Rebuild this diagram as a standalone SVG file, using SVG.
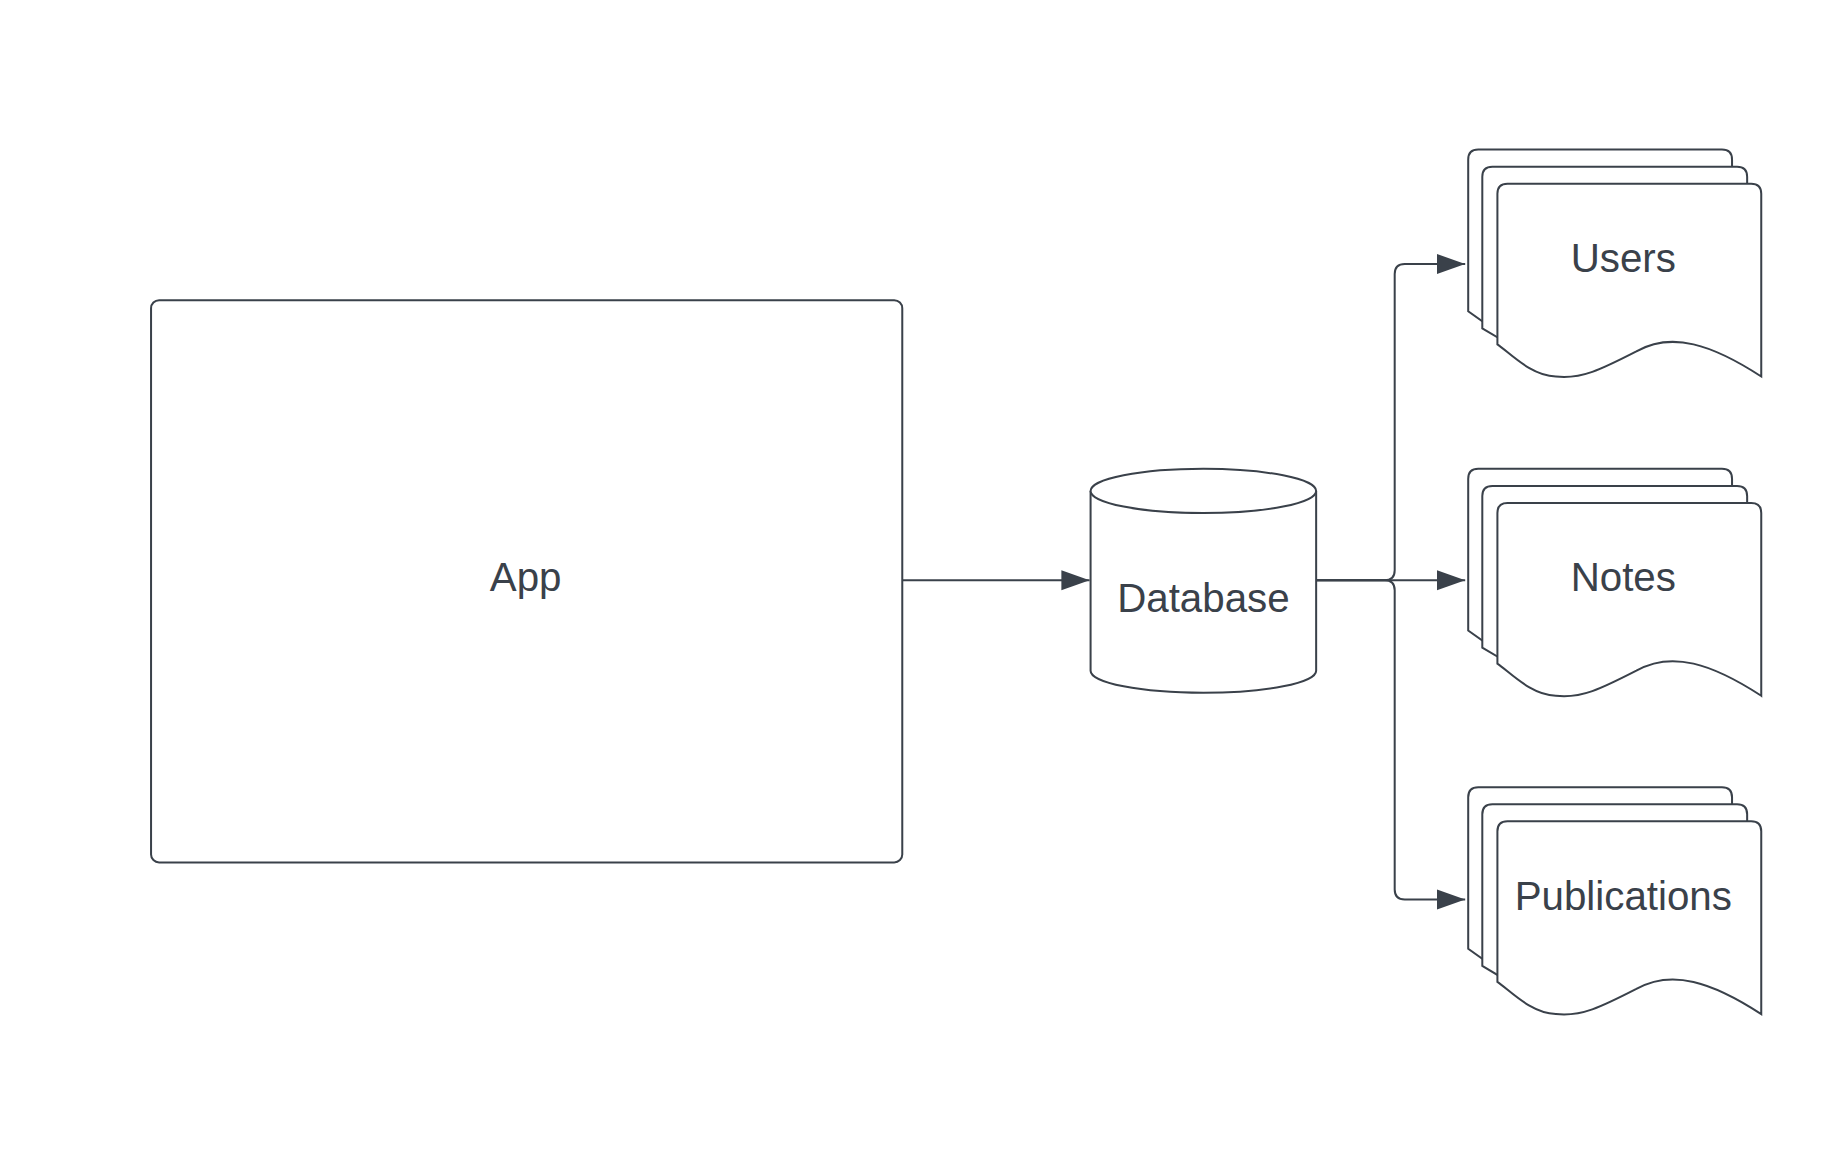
<svg xmlns="http://www.w3.org/2000/svg" width="1838" height="1163" viewBox="0 0 1838 1163">
<style>
.s{fill:#fff;stroke:#3a414a;stroke-width:2}
.c{fill:none;stroke:#3a414a;stroke-width:2}
text{font-family:"Liberation Sans",Arial,sans-serif;font-size:40px;fill:#3a414a;text-anchor:middle}
</style>
<defs>
<marker id="a" markerWidth="30" markerHeight="22" refX="28" refY="11" orient="auto" markerUnits="userSpaceOnUse"><path d="M0,1 L28,11 L0,21 Z" fill="#3a414a"/></marker>
<g id="doc">
<path class="s" d="M1458,310 V159 Q1458,149 1468,149 H1710 Q1720,149 1720,159 V320 L1472,320 Z"/>
<path class="s" d="M1472,327 V176 Q1472,166 1482,166 H1725 Q1735,166 1735,176 V336 L1487,336 Z"/>
<path class="s" d="M1487,343 V193 Q1487,183 1497,183 H1739 Q1749,183 1749,193 V375 C1700,343 1660,330 1625,350 C1590,368 1570,378 1545,375 C1520,374 1500,352 1487,343 Z"/>
</g>
</defs>
<rect width="1838" height="1163" fill="#fff"/>
<g transform="scale(1.007,1.004)">
<g id="app"><rect class="s" x="150" y="299" width="746" height="560" rx="8"/><text x="522" y="589">App</text></g>
<g id="database">
<path class="s" d="M1083,489 V668 A112,22 0 0 0 1307,668 V489"/>
<ellipse class="s" cx="1195" cy="489" rx="112" ry="22"/>
<text x="1195" y="610">Database</text>
</g>
<g id="users"><use href="#doc"/><text x="1612" y="271">Users</text></g>
<g id="notes"><use href="#doc" y="318"/><text x="1612" y="589">Notes</text></g>
<g id="publications"><use href="#doc" y="635"/><text x="1612" y="906">Publications</text></g>
<g id="connectors">
<path class="c" d="M896,578 H1082" marker-end="url(#a)"/>
<path class="c" d="M1307,578 H1375 Q1385,578 1385,568 V273 Q1385,263 1395,263 H1455" marker-end="url(#a)"/>
<path class="c" d="M1307,578 H1455" marker-end="url(#a)"/>
<path class="c" d="M1307,578 H1375 Q1385,578 1385,588 V886 Q1385,896 1395,896 H1455" marker-end="url(#a)"/>
</g>
</g>
</svg>
